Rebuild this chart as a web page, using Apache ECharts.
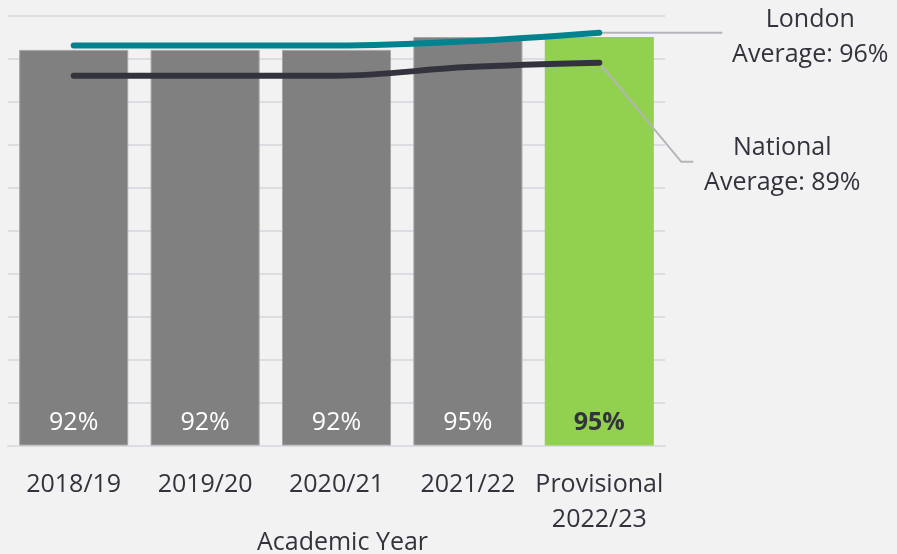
<!DOCTYPE html>
<html lang="en" style="height: 100%">
<head>
    <meta charset="UTF-8">
</head>
<body style="height: 100%; margin: 0; background: #f2f2f2">
  <div id="container" style="width: 897px; height: 554px"></div>

  <script type="text/javascript" src="https://fastly.jsdelivr.net/npm/echarts@6/dist/echarts.min.js"></script>

  <script type="text/javascript">
var years = ['2018/19', '2019/20', '2020/21', '2021/22', 'Provisional\n2022/23'];
var schoolValues = [92, 92, 92, 95, 95];
var londonValues = [93, 93, 93, 94, 96];
var nationalValues = [86, 86, 86, 88, 89];
var londonLabel = 'London\nAverage: 96%';
var nationalLabel = 'National\nAverage: 89%';

var FONT = 'Open Sans';
var TEXT = '#33333d';

var dom = document.getElementById('container');
var myChart = echarts.init(dom, null, { renderer: 'canvas' });

var barData = schoolValues.map(function (v, i) {
  var last = i === schoolValues.length - 1;
  return {
    value: v,
    itemStyle: last
      ? { color: '#92d050', borderWidth: 0 }
      : { color: '#808080', borderColor: '#a6a6a6', borderWidth: 1 },
    label: last ? { color: TEXT, fontWeight: 'bold' } : {}
  };
});

var option = {
  backgroundColor: '#f2f2f2',
  animation: false,
  grid: { left: 8, right: 232, top: 15.5, bottom: 108.5, outerBoundsMode: 'none', containLabel: false },
  xAxis: {
    type: 'category',
    data: years,
    name: 'Academic Year',
    nameLocation: 'middle',
    nameGap: 82,
    nameMoveOverlap: false,
    nameTextStyle: {
      fontFamily: FONT, fontSize: 25, color: TEXT, lineHeight: 30,
      padding: [0, 0, 0, 12]
    },
    axisLine: { lineStyle: { color: '#dcdce2', width: 2 } },
    axisTick: { show: false },
    axisLabel: {
      interval: 0,
      hideOverlap: false,
      fontFamily: FONT, fontSize: 25, color: TEXT, lineHeight: 35, margin: 22
    }
  },
  yAxis: {
    type: 'value',
    min: 0,
    max: 100,
    interval: 10,
    axisLabel: { show: false },
    axisLine: { show: false },
    axisTick: { show: false },
    splitLine: { lineStyle: { color: '#dcdce2', width: 2 } }
  },
  series: [
    {
      type: 'bar',
      data: barData,
      barCategoryGap: '17%',
      label: {
        show: true,
        position: 'insideBottom',
        distance: 10,
        formatter: '{c}%',
        fontFamily: FONT,
        fontSize: 25,
        color: '#ffffff'
      },
      z: 1
    },
    {
      type: 'line',
      data: londonValues,
      smooth: 0.35,
      showSymbol: false,
      lineStyle: { color: '#00838f', width: 6, cap: 'round' },
      z: 3
    },
    {
      type: 'line',
      data: nationalValues,
      smooth: 0.35,
      showSymbol: false,
      lineStyle: { color: '#33333d', width: 6, cap: 'round' },
      z: 3
    }
  ]
};

myChart.setOption(option);

// leader lines and callouts anchored to the last point of each average line
var last = years.length - 1;
var pL = myChart.convertToPixel({ seriesIndex: 1 }, [last, londonValues[last]]);
var pN = myChart.convertToPixel({ seriesIndex: 2 }, [last, nationalValues[last]]);
var guide = { stroke: '#b4b4bc', lineWidth: 2 };
var calloutStyle = {
  fontFamily: FONT, fontSize: 25, fill: TEXT, lineHeight: 35,
  align: 'center', verticalAlign: 'top'
};

myChart.setOption({
  graphic: [
    {
      type: 'polyline',
      shape: { points: [pL, [pL[0] + 123, pL[1]]] },
      style: guide,
      z: 2
    },
    {
      type: 'text',
      x: pL[0] + 211,
      y: pL[1] - 30,
      style: Object.assign({ text: londonLabel }, calloutStyle)
    },
    {
      type: 'polyline',
      shape: { points: [pN, [pN[0] + 82, pN[1] + 99], [pN[0] + 94, pN[1] + 99]] },
      style: guide,
      z: 2
    },
    {
      type: 'text',
      x: pN[0] + 183,
      y: pN[1] + 68,
      style: Object.assign({ text: nationalLabel }, calloutStyle)
    }
  ]
});

window.addEventListener('resize', myChart.resize);
  </script>
</body>
</html>
